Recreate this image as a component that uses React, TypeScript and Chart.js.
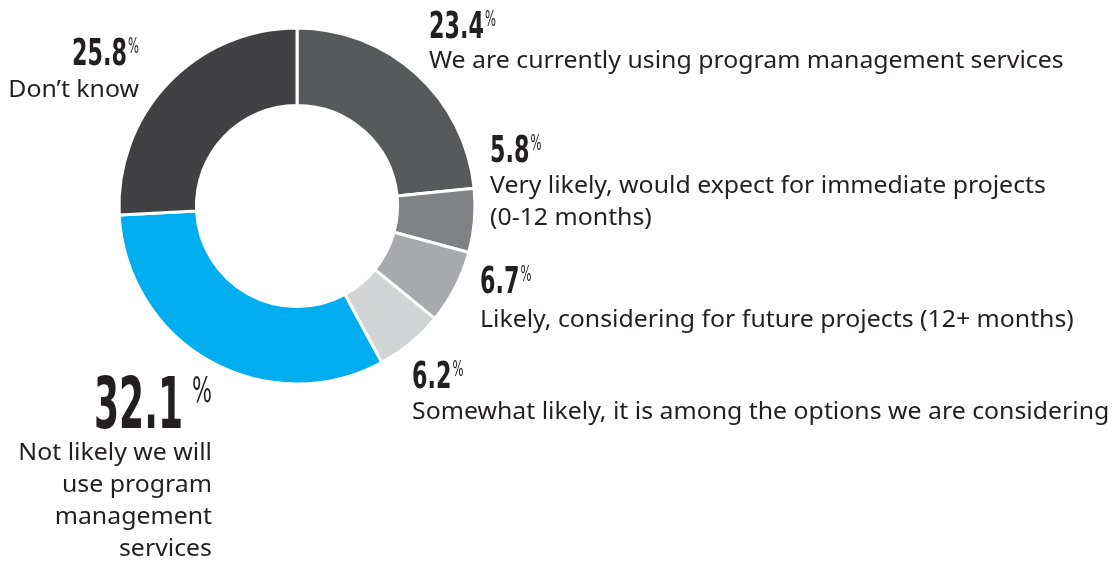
import React, { useEffect, useRef } from "react";
import { Chart, registerables } from "chart.js";

Chart.register(...registerables);

// ---- data ----
const categories: string[][] = [
  ["We are currently using program management services"],
  ["Very likely, would expect for immediate projects", "(0-12 months)"],
  ["Likely, considering for future projects (12+ months)"],
  ["Somewhat likely, it is among the options we are considering"],
  ["Not likely we will", "use program", "management", "services"],
  ["Don’t know"],
];
const values: number[] = [23.4, 5.8, 6.7, 6.2, 32.1, 25.8];
const colors: string[] = ["#58595b", "#808285", "#a7a9ac", "#d1d3d4", "#00aeef", "#414042"];

// ---- label layout (positions only) ----
type Layout = { x: number; align: "left" | "right"; numBase: number; textBase: number; big: boolean };
const labelLayout: Layout[] = [
  { x: 429, align: "left", numBase: 38, textBase: 68, big: false },
  { x: 490, align: "left", numBase: 162, textBase: 193, big: false },
  { x: 480, align: "left", numBase: 293, textBase: 327, big: false },
  { x: 412, align: "left", numBase: 388, textBase: 419, big: false },
  { x: 212, align: "right", numBase: 428, textBase: 460, big: true },
  { x: 139, align: "right", numBase: 65, textBase: 97, big: false },
];

const NUM_FONT = '"Liberation Sans Narrow", "DejaVu Sans Condensed", sans-serif';
const TEXT_FONT = '"Noto Sans", "Open Sans", sans-serif';
const INK = "#231f20";

const labelPlugin = {
  id: "sliceLabels",
  afterDraw(chart: any) {
    const ctx: CanvasRenderingContext2D = chart.ctx;
    ctx.save();
    ctx.fillStyle = INK;
    labelLayout.forEach((L, i) => {
      const num = values[i].toFixed(1);
      const size = L.big ? 72 : 38;
      const pSize = L.big ? 36 : 22;
      const cap = size * 0.729;
      const pCap = pSize * 0.729;
      // horizontal compression so "00.0" spans the reference width
      ctx.font = `bold ${size}px ${NUM_FONT}`;
      const refW = ctx.measureText("00.0").width;
      const sx = (L.big ? 89 : 55) / refW;
      const nw = ctx.measureText(num).width * sx;
      ctx.font = `${pSize}px ${NUM_FONT}`;
      const pRaw = ctx.measureText("%").width;
      const psx = (L.big ? 20 : 11) / pRaw;
      const pw = pRaw * psx;
      const gap = L.big ? 9 : 1;
      const total = nw + gap + pw;
      const x0 = L.align === "left" ? L.x : L.x - total;
      ctx.textAlign = "left";
      ctx.textBaseline = "alphabetic";
      ctx.save();
      ctx.translate(x0, L.numBase);
      ctx.scale(sx, 1);
      ctx.font = `bold ${size}px ${NUM_FONT}`;
      ctx.fillText(num, 0, 0);
      ctx.restore();
      ctx.save();
      ctx.translate(x0 + nw + gap, L.numBase - cap + pCap);
      ctx.scale(psx, 1);
      ctx.font = `${pSize}px ${NUM_FONT}`;
      ctx.fillText("%", 0, 0);
      ctx.restore();

      const tsx = 1.035;
      categories[i].forEach((line, j) => {
        ctx.save();
        ctx.translate(L.x, L.textBase + j * 32);
        ctx.scale(tsx, 1);
        ctx.font = `24px ${TEXT_FONT}`;
        ctx.textAlign = L.align;
        ctx.fillText(line, 0, 0);
        ctx.restore();
      });
    });
    ctx.restore();
  },
};

export default function App() {
  const ref = useRef<HTMLCanvasElement | null>(null);
  useEffect(() => {
    if (!ref.current) return;
    const chart = new Chart(ref.current, {
      type: "doughnut",
      data: {
        labels: categories.map((c) => c.join(" ")),
        datasets: [
          {
            data: values,
            backgroundColor: colors,
            borderColor: "#ffffff",
            borderWidth: 3,
            radius: 178,
            cutout: "56.5%",
          } as any,
        ],
      },
      options: {
        responsive: false,
        animation: false,
        layout: { padding: { left: 120, right: 638, top: 29, bottom: 178 } },
        plugins: { legend: { display: false }, tooltip: { enabled: false } },
      },
      plugins: [labelPlugin],
    });
    return () => chart.destroy();
  }, []);
  return (
    <div style={{ position: "absolute", left: 0, top: 0, width: 1112, height: 561, background: "#fff" }}>
      <canvas ref={ref} width={1112} height={561} style={{ width: 1112, height: 561 }} />
    </div>
  );
}
